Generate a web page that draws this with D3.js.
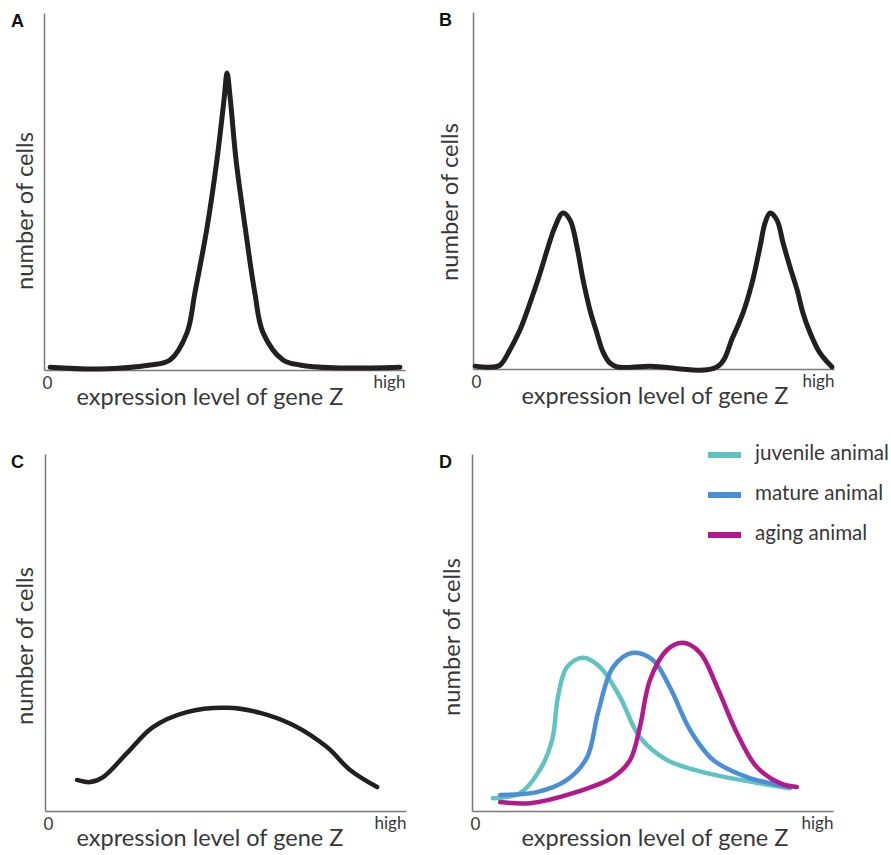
<!DOCTYPE html>
<html>
<head>
<meta charset="utf-8">
<script src="https://cdn.jsdelivr.net/npm/d3@7"></script>
<style>
  html, body { margin: 0; padding: 0; background: #fff; }
  svg { display: block; }
</style>
</head>
<body>
<svg id="chart" width="891" height="855"></svg>
<script>
// ---------------- DATA ----------------
const panelLabels = ["A", "B", "C", "D"];
const tickLabels = ["0", "high"];
const xAxisTitle = "expression level of gene Z";
const yAxisTitle = "number of cells";
const seriesNames = ["juvenile animal", "mature animal", "aging animal"];

// x: expression level (0 = none, 100 = high); y: number of cells (relative units 0-100)
const unimodal = [
  [1.7, 0.8], [15.5, 0.3], [29.4, 1.4], [34.9, 2.8], [39.6, 10.4], [41.8, 21.6],
  [45.2, 40.1], [47.9, 58.8], [49.9, 76.0], [50.7, 83.2], [51.6, 76.0], [53.2, 58.8],
  [55.7, 40.1], [58.4, 21.6], [60.7, 10.4], [66.2, 2.8], [70.9, 1.4], [80.1, 0.6], [98.6, 0.8]
];
const bimodal = [
  [0.6, 0.8], [4.7, 0.5], [7.5, 1.1], [10.2, 5.3], [13.0, 10.9], [15.8, 18.5], [18.6, 26.9],
  [20.8, 34.2], [22.7, 39.8], [24.9, 43.7], [26.9, 41.7], [28.8, 34.2], [30.5, 24.9],
  [32.4, 16.5], [34.3, 10.1], [36.0, 4.8], [37.9, 1.7], [39.9, 0.6], [49.0, 0.8],
  [67.6, 0.6], [72.0, 9.0], [74.8, 15.7], [77.3, 24.1], [79.5, 34.2], [80.9, 40.9],
  [82.3, 43.7], [84.2, 41.7], [85.9, 35.3], [87.8, 28.6], [89.8, 22.1], [91.4, 15.7],
  [93.4, 10.1], [96.1, 4.5], [99.4, 0.6]
];
const broad = [
  [8.9, 8.7], [12.5, 8.1], [16.1, 9.5], [22.7, 16.2], [29.9, 23.5], [39.3, 27.7],
  [50.4, 28.9], [59.6, 27.5], [68.7, 24.1], [78.1, 17.9], [84.5, 11.5], [92.0, 6.7]
];
const juvenile = [
  [5.8, 3.6], [13.3, 5.0], [18.8, 11.5], [22.2, 19.9], [23.8, 31.9], [26.3, 40.3],
  [30.7, 42.9], [35.5, 40.3], [41.0, 31.9], [46.5, 20.7], [54.0, 14.3], [65.1, 10.6],
  [77.8, 8.1], [88.1, 6.4]
];
const mature = [
  [7.8, 4.5], [18.0, 5.3], [26.3, 8.7], [31.9, 15.1], [34.9, 27.5], [39.1, 40.3],
  [44.6, 44.3], [50.1, 42.3], [54.8, 34.7], [60.4, 22.7], [66.8, 14.3], [76.2, 9.5],
  [88.1, 6.7]
];
const aging = [
  [7.8, 2.5], [16.1, 2.2], [28.0, 5.0], [39.1, 9.5], [43.8, 14.3], [46.5, 23.5],
  [49.3, 36.7], [54.0, 45.1], [58.4, 47.1], [63.2, 44.3], [67.9, 34.7], [73.4, 21.8],
  [78.9, 12.3], [85.3, 7.8], [90.0, 6.7]
];

// ---------------- LAYOUT / STYLE ----------------
const W = 361, H = 357;
const FONT = "Lato, 'Open Sans', sans-serif";
const TEXT_COLOR = "#383838";
const seriesColors = ["#5ec3c1", "#4a8fd6", "#b3198c"];
const panels = [
  { label: panelLabels[0], ox: 44,  oy: 370, series: [unimodal], colors: ["#231f20"], sw: 5,   curve: d3.curveCatmullRom.alpha(0.5), xt: 166, yt: 198, yb: -11 },
  { label: panelLabels[1], ox: 473, oy: 369, series: [bimodal],  colors: ["#231f20"], sw: 5,   curve: d3.curveCatmullRom.alpha(0.5), xt: 182, yt: 190, yb: -15 },
  { label: panelLabels[2], ox: 45,  oy: 811, series: [broad],    colors: ["#231f20"], sw: 4.5, curve: d3.curveCatmullRom.alpha(0.5), xt: 165, yt: 192, yb: -12 },
  { label: panelLabels[3], ox: 472, oy: 811, series: [juvenile, mature, aging], colors: seriesColors, sw: 4.5, curve: d3.curveCatmullRom.alpha(0.5), xt: 183, yt: 183, yb: -12 }
];

const svg = d3.select("#chart");
const x = d3.scaleLinear().domain([0, 100]).range([0, W]);
const y = d3.scaleLinear().domain([0, 100]).range([H, 0]);

function fitWidth(sel, target) {
  const w = sel.node().getComputedTextLength();
  const fs = parseFloat(sel.style("font-size"));
  sel.style("font-size", (fs * target / w).toFixed(2) + "px");
}

panels.forEach((p, pi) => {
  const g = svg.append("g").attr("transform", `translate(${p.ox},${p.oy - H})`);
  const line = d3.line().x(d => x(d[0])).y(d => y(d[1])).curve(p.curve);

  // axes
  const xAxis = d3.axisBottom(x).tickValues([0, 100]).tickSize(0).tickPadding(7)
    .tickFormat((d, i) => tickLabels[i]);
  const gx = g.append("g").attr("transform", `translate(0,${H})`).call(xAxis);
  gx.select(".domain").attr("stroke", "#7a7a7a").attr("stroke-width", 1.5);
  gx.selectAll(".tick text")
    .style("font-family", FONT).style("font-size", "15px").style("fill", TEXT_COLOR)
    .attr("text-anchor", (d, i) => i === 0 ? "middle" : "end")
    .attr("dx", (d, i) => i === 0 ? 3 : 0)
    .attr("dy", (d, i) => i === 0 ? "0.71em" : "0.62em");
  const hi = gx.selectAll(".tick text").filter((d, i) => i === 1);
  fitWidth(hi, 32);
  gx.selectAll(".tick text").filter((d, i) => i === 0).style("font-size", hi.style("font-size"));

  const yAxis = d3.axisLeft(y).tickValues([]).tickSizeOuter(0);
  const gy = g.append("g").call(yAxis);
  gy.select(".domain").attr("stroke", "#7a7a7a").attr("stroke-width", 1.5);

  // curves
  p.series.forEach((s, si) => {
    g.append("path").datum(s)
      .attr("d", line)
      .attr("fill", "none")
      .attr("stroke", p.colors[si])
      .attr("stroke-width", p.sw)
      .attr("stroke-linecap", "round")
      .attr("stroke-linejoin", "round");
  });

  // axis titles
  const xt = g.append("text").attr("x", p.xt).attr("y", H + 35)
    .attr("text-anchor", "middle")
    .style("font-family", FONT).style("font-size", "20px").style("fill", TEXT_COLOR)
    .text(xAxisTitle);
  fitWidth(xt, 267);
  const yt = g.append("text")
    .attr("transform", `translate(${p.yb},${p.yt}) rotate(-90)`)
    .attr("text-anchor", "middle")
    .style("font-family", FONT).style("font-size", "20px").style("fill", TEXT_COLOR)
    .text(yAxisTitle);
  fitWidth(yt, 158);

  // panel letter
  svg.append("text").attr("x", pi % 2 === 0 ? 11 : 439).attr("y", p.oy - H + 14)
    .style("font-family", "'Liberation Sans', Arial, sans-serif")
    .style("font-weight", "bold").style("font-size", "18px").style("fill", "#111")
    .text(p.label);
});

// legend for panel D
const leg = svg.append("g").attr("transform", "translate(708,455)");
seriesNames.forEach((n, i) => {
  const row = leg.append("g").attr("transform", `translate(0,${i * 40})`);
  row.append("line").attr("x1", 0).attr("x2", 33).attr("y1", 0).attr("y2", 0)
    .attr("stroke", seriesColors[i]).attr("stroke-width", 6);
  const t = row.append("text").attr("x", 47).attr("y", 5)
    .style("font-family", FONT).style("font-size", "17px").style("fill", TEXT_COLOR)
    .text(n);
  if (i === 0) fitWidth(t, 134);
});
const fsLeg = leg.select("text").style("font-size");
leg.selectAll("text").style("font-size", fsLeg);
</script>
</body>
</html>
